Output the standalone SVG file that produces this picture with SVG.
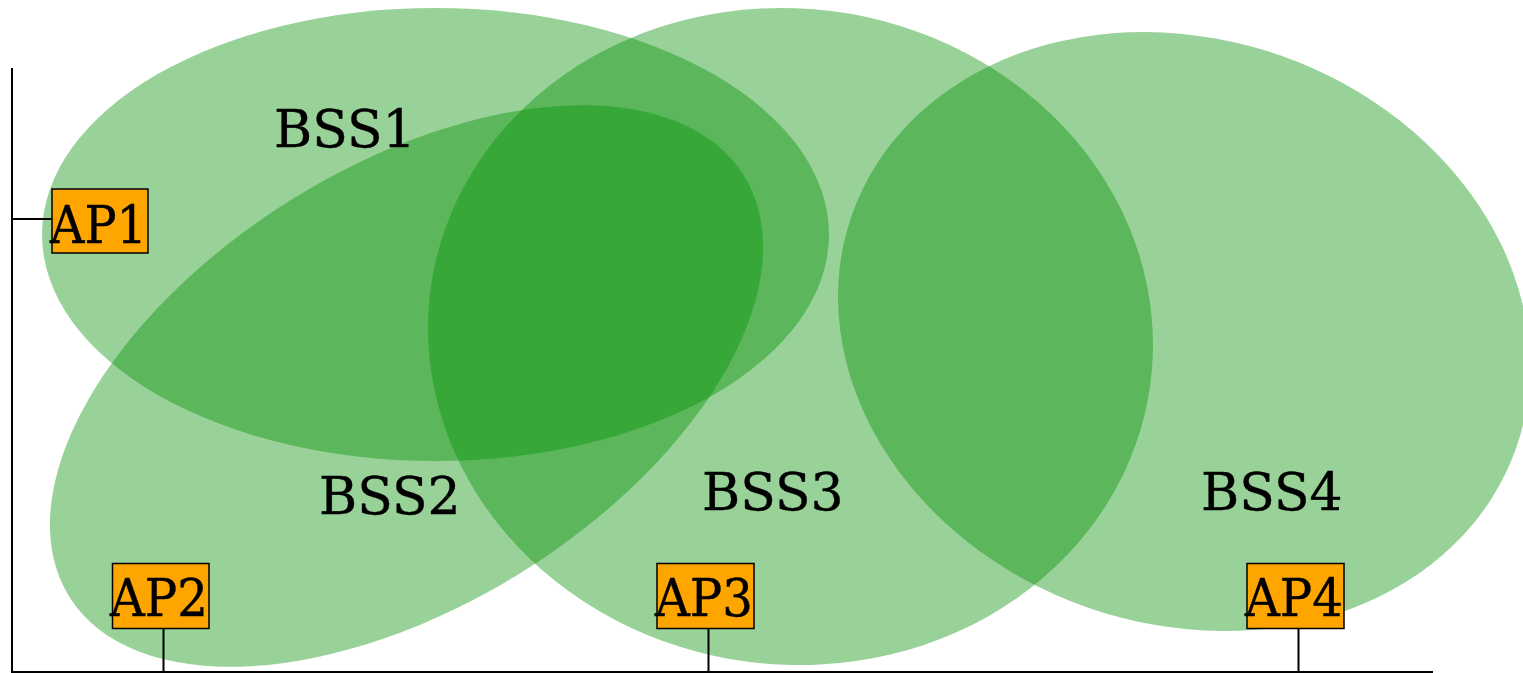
<svg xmlns="http://www.w3.org/2000/svg" width="1523" height="673" viewBox="0 0 1523 673">
<style>
.cov{fill:#008f00;fill-opacity:0.4;stroke:none}
.ap{fill:#ffa500;stroke:#000;stroke-width:1.5}
.lbl{font-family:"DejaVu Serif","Liberation Serif",serif;font-size:52px;fill:#000;stroke:#000;stroke-width:0.4}
.ln{stroke:#000;stroke-width:2;fill:none}
</style>
<rect width="1523" height="673" fill="#fff"/>
<g id="bss1"><ellipse class="cov" cx="435.5" cy="234.5" rx="393.5" ry="226.5"/></g>
<g id="bss2"><ellipse class="cov" cx="406.5" cy="386" rx="397.6" ry="219" transform="rotate(-32 406.5 386)"/></g>
<g id="bss3"><ellipse class="cov" cx="790.5" cy="336.5" rx="363" ry="328" transform="rotate(7.2 790.5 336.5)"/></g>
<g id="bss4"><ellipse class="cov" cx="1184" cy="331.5" rx="352" ry="292.4" transform="rotate(19.3 1184 331.5)"/></g>
<g id="connectors">
<line class="ln" x1="12" y1="68" x2="12" y2="672"/>
<line class="ln" x1="11" y1="672" x2="1433" y2="672"/>
<line class="ln" x1="12" y1="219" x2="52" y2="219"/>
<line class="ln" x1="163.5" y1="628" x2="163.5" y2="672"/>
<line class="ln" x1="708.5" y1="628" x2="708.5" y2="672"/>
<line class="ln" x1="1298.5" y1="628" x2="1298.5" y2="672"/>
</g>
<g id="labels">
<text class="lbl" x="274" y="147">BSS1</text>
<text class="lbl" x="319" y="514">BSS2</text>
<text class="lbl" x="702" y="510">BSS3</text>
<text class="lbl" x="1201" y="510">BSS4</text>
</g>
<g id="ap1"><rect class="ap" x="52" y="189" width="96" height="64"/><text class="lbl" x="50" y="243" textLength="97" lengthAdjust="spacingAndGlyphs">AP1</text></g>
<g id="ap2"><rect class="ap" x="112.5" y="563.5" width="96.5" height="65"/><text class="lbl" x="110" y="616" textLength="98" lengthAdjust="spacingAndGlyphs">AP2</text></g>
<g id="ap3"><rect class="ap" x="657" y="563.5" width="97" height="65"/><text class="lbl" x="655" y="616" textLength="98" lengthAdjust="spacingAndGlyphs">AP3</text></g>
<g id="ap4"><rect class="ap" x="1247" y="563.5" width="97" height="65"/><text class="lbl" x="1245" y="616" textLength="98" lengthAdjust="spacingAndGlyphs">AP4</text></g>
</svg>
